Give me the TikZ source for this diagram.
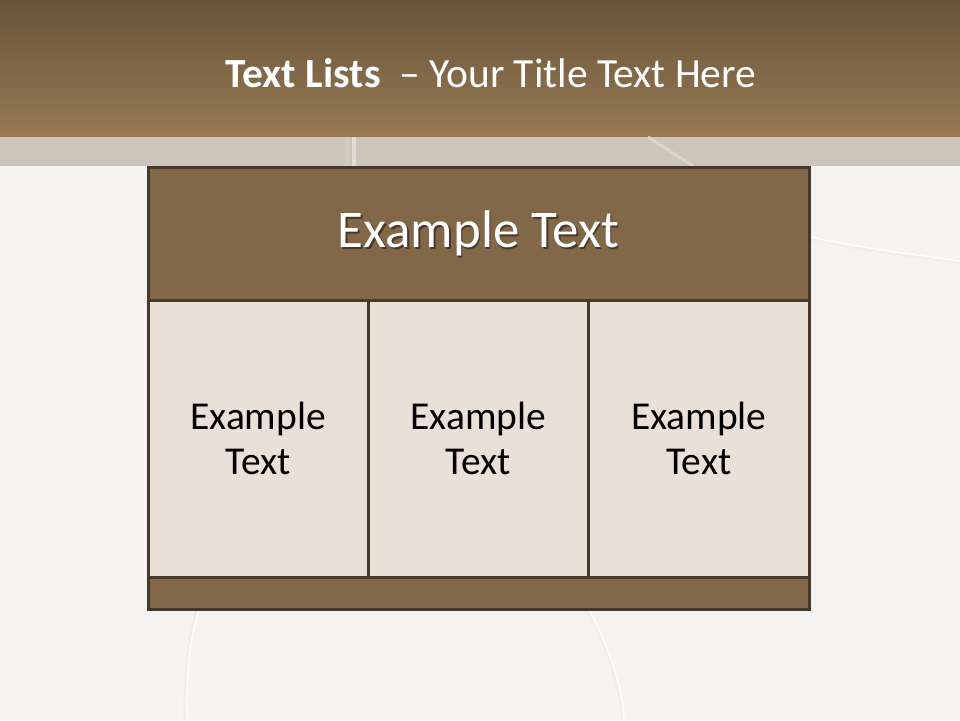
\documentclass[tikz,border=0pt]{standalone}
\usepackage{fontspec}
\setmainfont{Carlito}
\usepackage{tikz}
\usetikzlibrary{positioning,calc}
\definecolor{slidebg}{RGB}{245,243,241}
\definecolor{bartop}{RGB}{104,84,58}
\definecolor{barbottom}{RGB}{151,121,83}
\definecolor{bandgray}{RGB}{205,196,186}
\definecolor{tblbrown}{RGB}{131,103,73}
\definecolor{tblline}{RGB}{70,56,42}
\definecolor{cellbeige}{RGB}{233,225,215}

\begin{document}
\begin{tikzpicture}[x=1pt, y=-1pt,
  hdrbox/.style={rectangle, draw=tblline, line width=3pt, fill=tblbrown,
                 minimum width=661pt, minimum height=133pt, inner sep=0pt,
                 outer sep=0pt, text=white, font=\fontsize{53}{63}\selectfont},
  cellbox/.style={rectangle, draw=tblline, line width=3pt, fill=cellbeige,
                  minimum width=220.33pt, minimum height=277pt, inner sep=0pt,
                  outer sep=0pt, align=center, font=\fontsize{39.5}{45}\selectfont},
  footbox/.style={rectangle, draw=tblline, line width=3pt, fill=tblbrown,
                  minimum width=661pt, minimum height=32pt, inner sep=0pt,
                  outer sep=0pt},
  bgcurve/.style={line width=3pt, black!8, opacity=0.5},
  bglight/.style={line width=1.2pt, white}
]
  \useasboundingbox (0,0) rectangle (960,720);
  \fill[slidebg] (0,0) rectangle (960,720);

  % title bar and gray band
  \shade[top color=bartop, bottom color=barbottom] (0,0) rectangle (960,137);
  \fill[bandgray] (0,137) rectangle (960,166);
  \draw[white!85!bandgray, line width=1pt] (0,166) -- (960,166);

  % faint background curves
  \draw[black!12, line width=5pt, opacity=0.35] (347,137) -- (347,166);
  \draw[white!40!bandgray, line width=4pt] (354,137) -- (354,166);
  \draw[white!30!bandgray, line width=3pt] (648,137) -- (693,166);
  \draw[bgcurve] (810,239) .. controls (860,250) and (910,256) .. (960,263);
  \draw[bglight] (810,237) .. controls (860,248) and (910,254) .. (960,261);
  \draw[bgcurve] (197,610) .. controls (187,640) and (184,680) .. (185,720);
  \draw[bglight] (199,610) .. controls (189,640) and (186,680) .. (187,720);
  \draw[bgcurve] (587,610) .. controls (603,640) and (620,680) .. (622,720);
  \draw[bglight] (589,610) .. controls (605,640) and (622,680) .. (624,720);

  \node[anchor=base, text=white, font=\fontsize{41.5}{50}\selectfont]
        (title) at (491,87) {\textbf{Text Lists}\ \ – Your Title Text Here};

  % table
  \node[hdrbox] (hdr) at (478.5,233.5) {};
  \node[below right=0pt and 0pt of hdr.south west, cellbox] (cella)
        {Example\\Text};
  \node[right=0pt of cella, cellbox] (cellb) {Example\\Text};
  \node[right=0pt of cellb, cellbox] (cellc) {Example\\Text};
  \node[below right=0pt and 0pt of cella.south west, footbox] (foot) {};

  \node[text=black, opacity=0.45, font=\fontsize{53}{63}\selectfont]
        (hdrshadow) at ($(hdr.center)+(1.5,1.5)$) {Example Text};
  \node[text=white, font=\fontsize{53}{63}\selectfont]
        (hdrtext) at (hdr.center) {Example Text};
\end{tikzpicture}
\end{document}
